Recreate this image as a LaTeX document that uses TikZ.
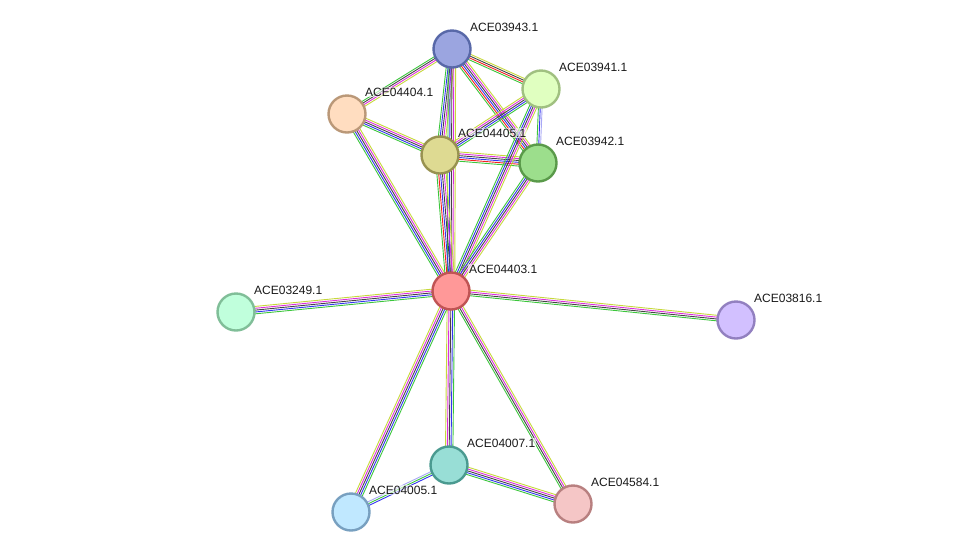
\documentclass[tikz,border=0pt]{standalone}
\usepackage{fontspec}
\setmainfont{Liberation Sans}
\usetikzlibrary{calc,backgrounds}
\definecolor{nbhgreen}{HTML}{3CC63C}
\definecolor{fusred}{HTML}{F52020}
\definecolor{coocblue}{HTML}{3434F0}
\definecolor{coexgray}{HTML}{444444}
\definecolor{exptmag}{HTML}{DD2EDD}
\definecolor{dbblue}{HTML}{A8A8F5}
\definecolor{txtyel}{HTML}{C6D83C}

% one STRING link: parallel lines, one per evidence channel
\newcommand{\strlink}[3]{%
  \foreach \c [count=\i] in {#3} {\xdef\nlines{\i}}
  \foreach \c [count=\i] in {#3} {
    \pgfmathsetlengthmacro{\off}{(\i-(\nlines+1)/2)*1.85pt}
    \draw[link,\c] ($(#1)!\off!90:(#2)$) -- ($(#2)!\off!-90:(#1)$);
  }}

\begin{document}
\begin{tikzpicture}[x=1pt,y=-1pt,
    prot/.style={circle, minimum size=37pt, inner sep=0pt, line width=2.4pt},
    lbl/.style={anchor=base west, inner sep=1pt, font=\fontsize{12}{14}\selectfont,
      text=black!90, fill=white, fill opacity=0.6, text opacity=1},
    link/.style={line width=0.9pt}]
    \useasboundingbox (0,0) rectangle (976,558);

    % Proteins
    \node[prot, fill={rgb,255:red,155;green,165;blue,224}, draw={rgb,255:red,88;green,104;blue,168}] (n03943) at (452,49) {};
    \node[prot, fill={rgb,255:red,224;green,255;blue,192}, draw={rgb,255:red,160;green,192;blue,128}] (n03941) at (541,89) {};
    \node[prot, fill={rgb,255:red,255;green,221;blue,192}, draw={rgb,255:red,186;green,152;blue,120}] (n04404) at (347,114) {};
    \node[prot, fill={rgb,255:red,222;green,218;blue,146}, draw={rgb,255:red,152;green,146;blue,80}] (n04405) at (440,155) {};
    \node[prot, fill={rgb,255:red,156;green,222;blue,140}, draw={rgb,255:red,90;green,154;blue,74}] (n03942) at (538,163) {};
    \node[prot, fill={rgb,255:red,255;green,152;blue,152}, draw={rgb,255:red,192;green,84;blue,84}] (n04403) at (451,291) {};
    \node[prot, fill={rgb,255:red,192;green,255;blue,220}, draw={rgb,255:red,128;green,190;blue,152}] (n03249) at (236,312) {};
    \node[prot, fill={rgb,255:red,210;green,192;blue,255}, draw={rgb,255:red,146;green,128;blue,192}] (n03816) at (736,320) {};
    \node[prot, fill={rgb,255:red,152;green,222;blue,214}, draw={rgb,255:red,74;green,154;blue,144}] (n04007) at (449,465) {};
    \node[prot, fill={rgb,255:red,192;green,232;blue,255}, draw={rgb,255:red,120;green,160;blue,192}] (n04005) at (351,512) {};
    \node[prot, fill={rgb,255:red,245;green,198;blue,198}, draw={rgb,255:red,184;green,128;blue,128}] (n04584) at (573,504) {};

    % Labels
    \node[lbl] (l03943) at ($(n03943)+(17,-18)$) {ACE03943.1};
    \node[lbl] (l03941) at ($(n03941)+(17,-18)$) {ACE03941.1};
    \node[lbl] (l04404) at ($(n04404)+(17,-18)$) {ACE04404.1};
    \node[lbl] (l04405) at ($(n04405)+(17,-18)$) {ACE04405.1};
    \node[lbl] (l03942) at ($(n03942)+(17,-18)$) {ACE03942.1};
    \node[lbl] (l04403) at ($(n04403)+(17,-18)$) {ACE04403.1};
    \node[lbl] (l03249) at ($(n03249)+(17,-18)$) {ACE03249.1};
    \node[lbl] (l03816) at ($(n03816)+(17,-18)$) {ACE03816.1};
    \node[lbl] (l04007) at ($(n04007)+(17,-18)$) {ACE04007.1};
    \node[lbl] (l04005) at ($(n04005)+(17,-18)$) {ACE04005.1};
    \node[lbl] (l04584) at ($(n04584)+(17,-18)$) {ACE04584.1};

    % Links
    \begin{scope}[on background layer]
    \strlink{n03943}{n04404}{nbhgreen,coexgray,exptmag,txtyel}
    \strlink{n03943}{n03941}{nbhgreen,fusred,coexgray,txtyel}
    \strlink{n03943}{n03942}{nbhgreen,fusred,coocblue,coexgray,exptmag,txtyel}
    \strlink{n03943}{n04405}{nbhgreen,coocblue,coexgray,exptmag,txtyel}
    \strlink{n03943}{n04403}{nbhgreen,coocblue,coexgray,exptmag,txtyel}
    \strlink{n04404}{n04405}{nbhgreen,coocblue,coexgray,exptmag,txtyel}
    \strlink{n04404}{n04403}{nbhgreen,coocblue,coexgray,exptmag,txtyel}
    \strlink{n04405}{n03941}{nbhgreen,coocblue,coexgray,exptmag,txtyel}
    \strlink{n04405}{n03942}{nbhgreen,fusred,coocblue,coexgray,exptmag,txtyel}
    \strlink{n04405}{n04403}{nbhgreen,fusred,coocblue,coexgray,exptmag,txtyel}
    \strlink{n03941}{n03942}{nbhgreen,coocblue,dbblue}
    \strlink{n03941}{n04403}{nbhgreen,coocblue,coexgray,exptmag,txtyel}
    \strlink{n03942}{n04403}{nbhgreen,coocblue,coexgray,exptmag,txtyel}
    \strlink{n03249}{n04403}{nbhgreen,coocblue,coexgray,exptmag,txtyel}
    \strlink{n04403}{n03816}{nbhgreen,coexgray,exptmag,txtyel}
    \strlink{n04007}{n04403}{nbhgreen,coocblue,coexgray,exptmag,txtyel}
    \strlink{n04005}{n04403}{nbhgreen,coocblue,coexgray,exptmag,txtyel}
    \strlink{n04403}{n04584}{nbhgreen,coexgray,exptmag,txtyel}
    \strlink{n04005}{n04007}{coocblue,nbhgreen,dbblue}
    \strlink{n04007}{n04584}{nbhgreen,coocblue,coexgray,exptmag,txtyel}
    \end{scope}
\end{tikzpicture}
\end{document}
